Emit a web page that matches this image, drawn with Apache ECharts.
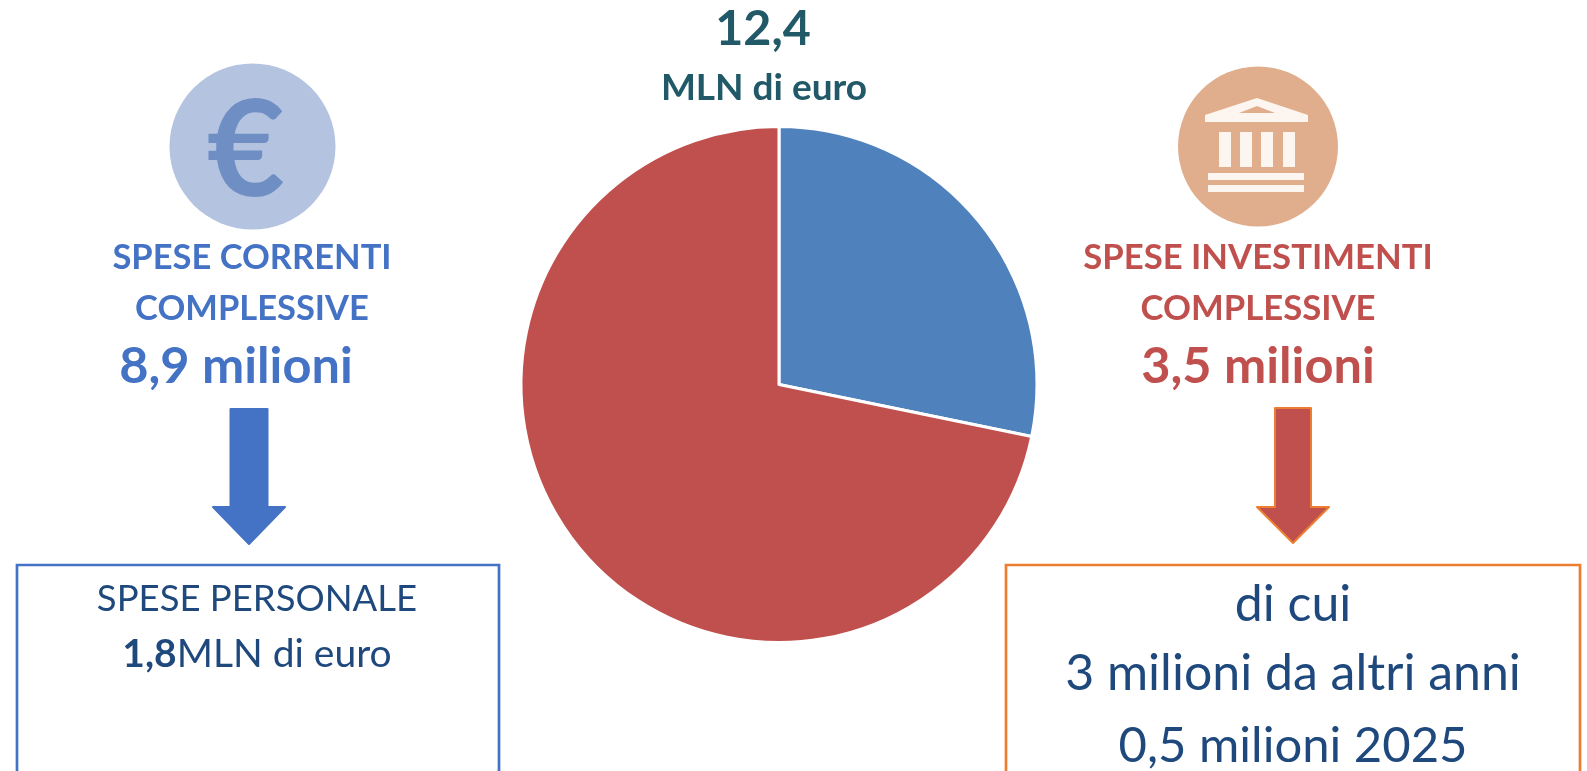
<!DOCTYPE html>
<html>
<head>
<meta charset="utf-8">
<title>Spese</title>
<style>
html, body { margin: 0; padding: 0; background: #fff; }
#main { width: 1587px; height: 771px; }
</style>
<script src="https://cdn.jsdelivr.net/npm/echarts@6/dist/echarts.min.js"></script>
</head>
<body>
<div id="main"></div>
<script>
var categories = ['Spese investimenti', 'Spese correnti'];
var values = [3.5, 8.9];
var sliceColors = ['#4F81BD', '#C0504D'];

var totalLabel = '12,4';
var totalUnit = 'MLN di euro';
var leftTitle = ['SPESE CORRENTI', 'COMPLESSIVE'];
var leftAmount = '8,9 milioni';
var rightTitle = ['SPESE INVESTIMENTI', 'COMPLESSIVE'];
var rightAmount = '3,5 milioni';
var leftBox = ['SPESE PERSONALE', '1,8', 'MLN di euro'];
var rightBox = ['di cui', '3 milioni da altri anni', '0,5 milioni 2025'];

var FONT = 'Lato';
var BLUE = '#4472C4';
var RED = '#C0504D';
var ORANGE = '#ED7D31';
var NAVY = '#1F497D';
var TEAL = '#215968';
var PALE = '#FDF6F0';

function label(text, x, y, size, color, weight) {
	return {
		type : 'text',
		x : x,
		y : y,
		style : {
			text : text,
			fill : color,
			font : (weight || 'normal') + ' ' + size + 'px ' + FONT,
			align : 'center',
			verticalAlign : 'middle'
		}
	};
}

function circle(cx, cy, r, color) {
	return { type : 'circle', shape : { cx : cx, cy : cy, r : r }, style : { fill : color } };
}

function block(x, y, w, h, color) {
	return { type : 'rect', shape : { x : x, y : y, width : w, height : h }, style : { fill : color } };
}

function arrow(cx, top, neck, tip, shaft, head, fill, stroke) {
	return {
		type : 'polygon',
		shape : {
			points : [ [ cx - shaft, top ], [ cx + shaft, top ], [ cx + shaft, neck ], [ cx + head, neck ],
					[ cx, tip ], [ cx - head, neck ], [ cx - shaft, neck ], [ cx - shaft, top ] ]
		},
		style : { fill : fill, stroke : stroke, lineWidth : 2, lineJoin : 'round' }
	};
}

// the boxes run off the bottom of the page, so they have no lower edge
function openBox(x1, x2, top, color) {
	return {
		type : 'polyline',
		shape : { points : [ [ x1, 771 ], [ x1, top ], [ x2, top ], [ x2, 771 ] ] },
		style : { fill : null, stroke : color, lineWidth : 2.7 }
	};
}

var temple = [
	{
		type : 'polygon',
		shape : { points : [ [ 1257, 98 ], [ 1308, 115 ], [ 1308, 122 ], [ 1205, 122 ], [ 1205, 115 ] ] },
		style : { fill : PALE }
	},
	{
		type : 'polygon',
		shape : { points : [ [ 1257, 106 ], [ 1275, 113 ], [ 1239, 113 ] ] },
		style : { fill : '#E0AE8C' }
	},
	block(1219, 132, 12, 35, PALE),
	block(1240, 132, 12, 35, PALE),
	block(1261, 132, 12, 35, PALE),
	block(1283, 132, 12, 35, PALE),
	block(1208, 173, 96, 7, PALE),
	block(1208, 185, 96, 7, PALE)
];

var graphics = [
	label(totalLabel, 763, 29, 48.5, TEAL, 'bold'),
	label(totalUnit, 764, 88, 37, TEAL, 'bold'),

	circle(252.5, 146.5, 83, '#B4C4E0'),
	label('\u20AC', 246, 152, 135, '#6F8FC4', 'bold'),
	label(leftTitle[0], 252, 258, 34.5, BLUE, 'bold'),
	label(leftTitle[1], 252, 309, 34.5, BLUE, 'bold'),
	label(leftAmount, 236, 367, 50.5, BLUE, 'bold'),
	arrow(249, 409, 507, 544, 18.5, 36, BLUE, BLUE),
	openBox(17, 499, 565, BLUE),
	label(leftBox[0], 257, 599, 36.5, NAVY),
	{
		type : 'text',
		x : 257,
		y : 654,
		style : {
			text : '{b|' + leftBox[1] + '}{n|' + leftBox[2] + '}',
			align : 'center',
			verticalAlign : 'middle',
			rich : {
				b : { font : 'bold 39px ' + FONT, fill : NAVY },
				n : { font : 'normal 39px ' + FONT, fill : NAVY }
			}
		}
	},

	circle(1258, 146.5, 80, '#E0AE8C')
].concat(temple, [
	label(rightTitle[0], 1258, 258, 34.7, RED, 'bold'),
	label(rightTitle[1], 1258, 309, 34.7, RED, 'bold'),
	label(rightAmount, 1258, 367, 50.5, RED, 'bold'),
	arrow(1293, 408, 507, 543, 18, 36, RED, ORANGE),
	openBox(1006, 1580, 565, ORANGE),
	label(rightBox[0], 1293, 605, 50, NAVY),
	label(rightBox[1], 1293, 674, 50, NAVY),
	label(rightBox[2], 1293, 746, 49, NAVY)
]);

var seriesData = [];
categories.forEach(function(name, i) {
	seriesData.push({
		name : name,
		value : values[i],
		itemStyle : { color : sliceColors[i] }
	});
});

var chart = echarts.init(document.getElementById('main'), null, { renderer : 'canvas' });
chart.setOption({
	animation : false,
	backgroundColor : '#fff',
	series : [ {
		type : 'pie',
		center : [ 779, 384.5 ],
		radius : [ 0, 258 ],
		startAngle : 90,
		clockwise : true,
		label : { show : false },
		labelLine : { show : false },
		itemStyle : { borderColor : '#fff', borderWidth : 3 },
		data : seriesData
	} ],
	graphic : { elements : graphics }
});
</script>
</body>
</html>
